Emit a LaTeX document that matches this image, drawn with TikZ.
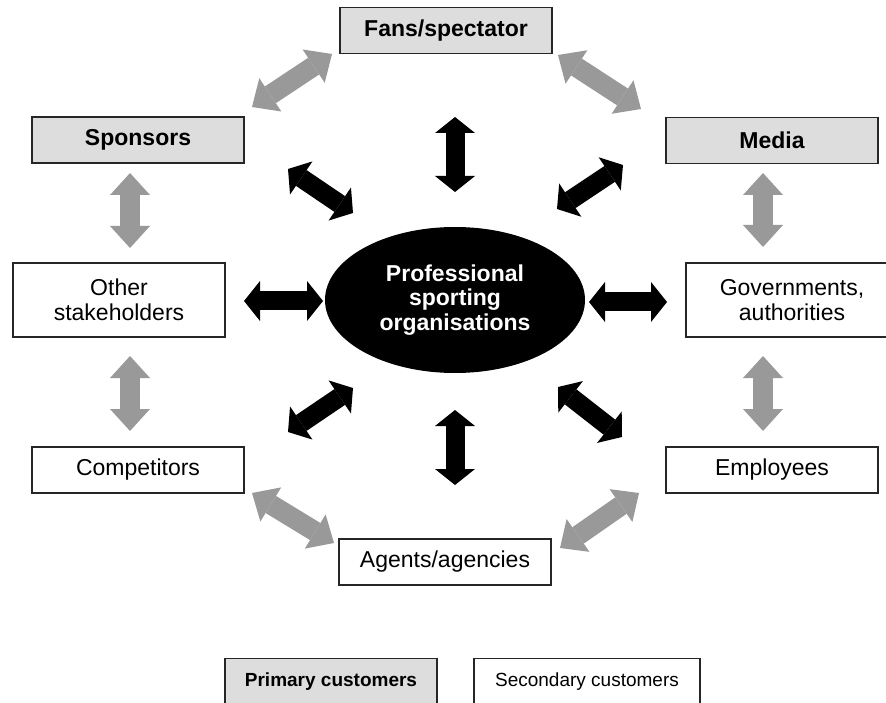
\documentclass[tikz,border=0pt]{standalone}
\usepackage{fontspec}
\setmainfont{Liberation Sans}
\usetikzlibrary{arrows.meta,shapes.geometric}
\definecolor{boxgray}{RGB}{221,221,221}
\definecolor{arrgray}{RGB}{153,153,153}
\begin{document}
\begin{tikzpicture}[x=1pt,y=-1pt,
  box/.style={draw=black!85, line width=1.2pt, minimum width=212pt, minimum height=46pt,
    inner sep=0pt, align=center, font=\fontsize{23}{25}\selectfont},
  primbox/.style={box, fill=boxgray, font=\fontsize{23}{25}\selectfont\bfseries},
  secbox/.style={box, fill=white},
  legprim/.style={primbox, font=\fontsize{19}{21}\selectfont\bfseries},
  legsec/.style={secbox, font=\fontsize{19}{21}\selectfont},
  btip/.tip={Triangle[length=16pt,width=40pt,line width=0pt]},
  gtip/.tip={Triangle[length=22pt,width=40pt,line width=0pt]},
  blk/.style={line width=19pt, draw=black, btip-btip},
  gry/.style={line width=20pt, draw=arrgray, gtip-gtip},
]
\useasboundingbox (0,0) rectangle (886,703);
\clip (0,0) rectangle (886,703);

% nodes
\node[primbox] (fans) at (446,30.5) {Fans/spectator};
\node[primbox] (spons) at (138,140) {Sponsors};
\node[primbox] (media) at (772,140.5) {Media};
\node[secbox, minimum height=74pt] (other) at (119,300) {Other\\stakeholders};
\node[secbox, minimum height=74pt] (gov) at (792,300) {Governments,\\authorities};
\node[secbox] (comp) at (138,470) {Competitors};
\node[secbox] (empl) at (772,470) {Employees};
\node[secbox] (agents) at (445,562) {Agents/agencies};
\node[ellipse, fill=black, text=white, minimum width=260pt, minimum height=146pt, inner sep=0pt,
  align=center, font=\fontsize{23}{24.5}\selectfont\bfseries] (pso) at (455,300)
  {Professional\\sporting\\organisations};

\node[legprim, minimum width=212pt] (legp) at (331,681.5) {Primary customers};
\node[legsec, minimum width=226pt] (legs) at (587,681.5) {Secondary customers};

% black arrow ends
\coordinate (ba1) at (455,117);  \coordinate (ba2) at (455,192);
\coordinate (bb1) at (288,169);  \coordinate (bb2) at (353,213);
\coordinate (bc1) at (557,209);  \coordinate (bc2) at (623,165);
\coordinate (bd1) at (244,301);  \coordinate (bd2) at (323,301);
\coordinate (be1) at (589,302);  \coordinate (be2) at (667,302);
\coordinate (bf1) at (288,432);  \coordinate (bf2) at (353,388);
\coordinate (bg1) at (455,410);  \coordinate (bg2) at (455,485);
\coordinate (bh1) at (558,387);  \coordinate (bh2) at (622,437);

% gray arrow ends
\coordinate (g11) at (252,107);  \coordinate (g12) at (332,54);
\coordinate (g21) at (558,55);   \coordinate (g22) at (641,109);
\coordinate (g31) at (130,173);  \coordinate (g32) at (130,248);
\coordinate (g41) at (763,173);  \coordinate (g42) at (763,247);
\coordinate (g51) at (130,356);  \coordinate (g52) at (130,431);
\coordinate (g61) at (763,356);  \coordinate (g62) at (763,431);
\coordinate (g71) at (252,493);  \coordinate (g72) at (334,543);
\coordinate (g81) at (560,548);  \coordinate (g82) at (639,493);

\draw[blk] (ba1) -- (ba2);
\draw[blk] (bb1) -- (bb2);
\draw[blk] (bc1) -- (bc2);
\draw[blk] (bd1) -- (bd2);
\draw[blk] (be1) -- (be2);
\draw[blk] (bf1) -- (bf2);
\draw[blk] (bg1) -- (bg2);
\draw[blk] (bh1) -- (bh2);

\draw[gry] (g11) -- (g12);
\draw[gry] (g21) -- (g22);
\draw[gry] (g31) -- (g32);
\draw[gry] (g41) -- (g42);
\draw[gry] (g51) -- (g52);
\draw[gry] (g61) -- (g62);
\draw[gry] (g71) -- (g72);
\draw[gry] (g81) -- (g82);
\end{tikzpicture}
\end{document}
